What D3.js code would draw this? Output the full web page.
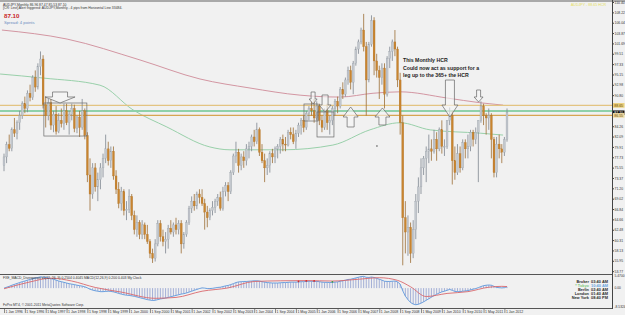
<!DOCTYPE html>
<html lang="en">
<head>
<meta charset="UTF-8">
<title>AUDJPY Monthly</title>
<script src="https://d3js.org/d3.v7.min.js"></script>
<style>
  body { margin: 0; background: #f1f1f1; }
  svg { display: block; font-family: 'Liberation Sans', Arial, sans-serif; }
  .tiny { font-size: 3.8px; fill: #333; }
</style>
</head>
<body>
<svg id="chart" width="625" height="315"></svg>
<script>
// ---- data ----
const firstMonth = new Date(1996, 0, 1);

// monthly candles [open, high, low, close], Jan 1996 .. Feb 2012
const candles = [
  [76.0,78.5,74.8,77.8],[77.8,81.0,76.5,80.4],[80.4,82.5,79.0,79.6],[79.6,84.0,79.0,83.5],
  [83.5,86.0,82.0,82.8],[82.8,85.5,81.5,85.0],[85.0,87.5,83.5,86.5],[86.5,89.5,85.8,89.0],
  [89.0,90.5,87.0,88.0],[88.0,91.8,87.2,91.2],[91.2,93.0,89.5,90.3],[90.3,95.0,89.8,94.5],
  [94.5,96.0,91.5,92.5],[92.5,97.5,92.0,96.8],[96.8,100.0,95.0,98.4],[98.4,99.2,88.0,88.8],
  [88.8,90.5,84.0,86.5],[86.5,90.0,85.5,89.2],[89.2,90.0,83.5,84.5],[84.5,87.5,83.0,86.8],
  [86.8,88.5,82.5,83.2],[83.2,87.0,82.8,85.5],[85.5,88.0,84.0,84.8],[84.8,89.0,83.5,87.5],
  [87.5,89.0,84.5,85.0],[85.0,87.5,82.5,86.8],[86.8,89.0,85.5,88.0],[88.0,88.8,83.0,83.8],
  [83.8,86.5,82.8,86.2],[86.2,87.5,82.0,84.0],[84.0,90.0,83.5,87.5],[87.5,88.0,81.5,82.3],
  [82.3,83.0,72.5,74.0],[74.0,77.5,66.5,70.0],[70.0,76.5,69.0,75.5],[75.5,76.5,70.5,71.5],
  [71.5,74.5,68.5,73.0],[73.0,76.5,71.0,75.5],[75.5,78.5,73.5,77.5],[77.5,82.5,76.5,79.5],
  [79.5,81.0,76.0,77.0],[77.0,80.0,75.5,79.0],[79.0,80.0,73.0,73.8],[73.8,75.0,70.0,71.0],
  [71.0,72.5,67.0,68.0],[68.0,71.5,66.5,70.5],[70.5,71.0,65.5,66.5],[66.5,68.5,64.5,66.8],
  [66.8,71.0,66.0,69.5],[69.5,70.0,64.5,65.5],[65.5,66.5,61.5,62.5],[62.5,65.5,61.0,64.0],
  [64.0,64.5,60.5,61.5],[61.5,64.5,60.5,63.5],[63.5,64.0,60.5,61.5],[61.5,63.5,59.5,60.0],
  [60.0,60.5,56.5,57.5],[57.5,58.5,55.5,56.5],[56.5,60.5,55.8,59.5],[59.5,64.5,59.0,63.8],
  [63.8,64.5,60.0,61.0],[61.0,62.5,59.0,60.0],[60.0,62.0,57.5,60.5],[60.5,63.5,58.5,62.8],
  [62.8,64.5,61.5,62.0],[62.0,64.0,61.0,63.5],[63.5,65.0,61.5,62.5],[62.5,64.5,61.5,63.8],
  [63.8,64.5,57.5,59.5],[59.5,62.0,58.5,61.5],[61.5,64.5,61.0,64.0],[64.0,67.5,63.5,67.0],
  [67.0,69.5,66.0,68.5],[68.5,70.0,66.5,67.5],[67.5,70.5,66.8,70.0],[70.0,71.0,68.0,69.3],
  [69.3,71.0,67.5,68.0],[68.0,69.0,62.5,66.2],[66.2,67.5,63.0,65.0],[65.0,67.0,64.5,66.5],
  [66.5,68.5,65.5,67.2],[67.2,69.0,66.0,68.5],[68.5,70.0,67.5,69.2],[69.2,70.5,66.5,67.0],
  [67.0,71.5,66.5,70.5],[70.5,72.5,69.5,71.8],[71.8,72.5,68.5,70.5],[70.5,75.0,70.0,74.5],
  [74.5,78.5,74.0,78.0],[78.0,81.0,76.5,78.8],[78.8,79.5,74.5,76.0],[76.0,78.5,75.0,77.8],
  [77.8,79.0,75.5,77.0],[77.0,80.5,76.0,79.5],[79.5,81.0,77.5,80.0],[80.0,82.5,79.0,82.0],
  [82.0,83.5,80.0,81.0],[81.0,85.0,80.5,83.5],[83.5,84.0,78.0,78.8],[78.8,80.5,76.5,77.0],
  [77.0,78.5,72.5,75.5],[75.5,77.5,74.0,76.0],[76.0,79.0,74.5,78.5],[78.5,79.5,76.5,77.8],
  [77.8,80.0,76.5,79.5],[79.5,80.5,77.5,80.0],[80.0,82.0,78.5,81.5],[81.5,82.5,79.0,80.5],
  [80.5,82.0,79.0,80.3],[80.3,83.5,80.0,83.0],[83.0,84.0,81.5,82.5],[82.5,84.0,80.5,81.0],
  [81.0,83.5,79.5,82.8],[82.8,85.0,82.0,84.5],[84.5,86.0,82.5,85.5],[85.5,86.5,83.0,84.0],
  [84.0,87.5,83.5,87.0],[87.0,88.5,85.5,88.0],[88.0,89.5,86.5,87.5],[87.5,90.0,85.0,86.0],
  [86.0,89.5,85.5,88.5],[88.5,89.0,84.5,85.5],[85.5,86.5,83.0,84.0],[84.0,88.0,83.5,87.5],
  [87.5,89.0,83.5,85.0],[85.0,86.5,82.5,85.5],[85.5,88.5,84.5,88.0],[88.0,90.0,86.5,89.5],
  [89.5,90.5,87.0,88.5],[88.5,92.5,88.0,92.0],[92.0,93.5,90.0,91.0],[91.0,94.5,90.5,94.0],
  [94.0,96.8,93.0,96.0],[96.0,97.0,92.0,93.5],[93.5,98.0,91.0,97.5],[97.5,101.0,97.0,100.5],
  [100.5,102.5,99.5,102.0],[102.0,105.0,101.5,104.5],[104.5,107.9,100.0,101.0],[101.0,102.0,86.5,94.0],
  [94.0,102.0,93.5,101.5],[101.5,107.6,101.0,106.5],[106.5,107.2,95.0,98.0],[98.0,99.5,94.5,96.0],
  [96.0,97.0,90.0,94.5],[94.5,97.5,93.0,96.5],[96.5,97.5,88.0,91.0],[91.0,99.0,90.5,98.5],
  [98.5,101.0,96.5,100.0],[100.0,102.5,98.0,102.0],[102.0,104.5,99.0,100.5],[100.5,101.0,92.5,94.0],
  [94.0,95.5,82.5,85.0],[85.0,86.5,55.0,65.0],[65.0,68.5,57.5,62.0],[62.0,65.5,57.0,63.0],
  [63.0,64.0,55.5,57.5],[57.5,64.5,56.5,62.5],[62.5,70.0,60.5,68.5],[68.5,73.5,66.0,71.5],
  [71.5,77.5,70.0,75.5],[75.5,78.0,74.0,77.5],[77.5,80.0,72.5,79.0],[79.0,82.5,76.5,79.5],
  [79.5,81.5,77.0,79.0],[79.0,83.5,78.5,81.5],[81.5,83.0,77.0,79.5],[79.5,84.0,79.0,83.5],
  [83.5,85.5,78.5,80.0],[80.0,81.5,78.0,80.0],[80.0,85.5,79.5,85.5],[85.5,88.2,84.5,86.5],
  [86.5,87.5,72.0,77.0],[77.0,80.0,73.0,74.5],[74.5,80.5,74.0,78.5],[78.5,80.0,74.5,75.5],
  [75.5,81.5,75.0,80.8],[80.8,81.5,77.5,79.5],[79.5,82.5,77.5,80.0],[80.0,83.5,79.0,83.0],
  [83.0,83.5,80.0,81.5],[81.5,84.0,80.5,83.0],[83.0,85.5,72.5,85.5],[85.5,89.5,85.0,88.5],
  [88.5,89.0,84.5,86.5],[86.5,87.0,82.5,86.0],[86.0,88.0,83.5,86.5],[86.5,87.0,77.5,81.5],
  [81.5,82.0,73.5,74.5],[74.5,82.0,73.5,80.5],[80.5,82.5,77.5,79.5],[79.5,80.5,76.5,78.8],
  [78.8,82.0,78.0,81.5],[81.5,88.0,81.0,87.1]
];

// moving averages on the price pane, [month index, price]
const slowMA = [[-0.8,104.5],[24.2,102.6],[52.2,98.2],[75.2,94.2],[94.4,92.3],[113.6,90.8],
  [128.9,90.4],[141.6,91.2],[152,91.5],[170,90.2],[182.7,89.2],[191.5,88.7]];
const fastMA = [[-1.5,95.25],[15,94.4],[36.8,92.9],[49.5,87.7],[62.5,84.1],[79,79.9],[86.7,79.3],
  [107,79.3],[126.2,80.3],[140.4,83.5],[152,85.0],[163.5,83.5],[182.7,82.8],[191.5,82.4]];

// horizontal lines: upper line, current price band, lower line
const levelPrices = [88.65, 87.45, 86.55];
const bidPrice = 87.10;

// MACD main value per month (histogram and blue line)
const macd = [
  0.0,0.4,0.8,1.3,1.7,2.1,2.5,2.9,3.2,3.6,3.9,4.3,4.5,4.8,5.1,
  5.0,4.8,4.6,4.3,4.0,3.6,
  3.2,2.9,2.6,2.3,2.0,1.8,1.6,1.3,1.1,0.9,
  0.6,0.1,-0.5,-0.9,-1.2,-1.4,-1.6,-1.6,-1.5,-1.4,
  -1.5,-1.7,-2.0,-2.4,-2.7,-3.0,-3.2,-3.3,-3.5,-3.7,
  -4.0,-4.3,-4.6,-4.9,-5.2,-5.4,-5.6,-5.5,-5.2,-4.9,
  -4.7,-4.5,-4.2,-3.9,-3.6,-3.3,-3.0,-2.7,-2.5,-2.2,
  -1.8,-1.4,-1.0,-0.6,-0.2,0.1,0.0,-0.2,-0.2,-0.1,
  0.1,0.3,0.4,0.7,1.0,1.2,1.6,2.0,2.5,2.8,
  2.9,3.0,3.0,3.1,3.2,3.3,3.3,3.2,2.9,2.7,
  2.5,2.4,2.3,2.3,2.3,2.4,2.5,2.5,2.6,2.7,
  2.7,2.7,2.8,2.9,2.9,3.0,3.1,3.1,3.0,3.0,
  2.9,2.7,2.6,2.6,2.5,2.6,2.7,2.8,3.1,3.3,
  3.6,3.9,4.0,4.3,4.6,4.9,5.2,5.3,4.9,4.8,
  5.0,4.8,4.4,4.0,3.6,3.1,3.0,3.0,3.1,3.2,
  2.8,1.8,-1.2,-3.6,-5.2,-6.5,-7.2,-7.5,-7.3,-6.8,
  -6.2,-5.5,-4.8,-4.1,-3.4,-2.8,-2.2,-1.7,-1.4,-1.0,
  -0.6,-1.0,-1.5,-1.6,-1.6,-1.4,-1.3,-1.1,-0.8,-0.5,
  -0.2,0.2,0.7,1.1,1.3,1.4,1.3,0.8,0.3,0.2,0.1,0.2,0.6
];
// MACD signal line, [month index, value]
const signal = [[0,-0.3],[10,2.8],[18,4.5],[26,3.2],[35,0.3],[45,-1.8],[58,-4.6],[66,-4.2],
  [76,-1.4],[86,0.1],[96,3.0],[106,3.3],[116,3.4],[126,3.2],[136,4.0],[144,4.7],[151,3.5],
  [156,0.6],[162,-3.8],[170,-2.4],[178,-1.6],[186,0.4],[191,0.8],[193,0.7]];
const divergenceMarks = [113, 116, 119, 126];

const priceTicks = [110.40,108.22,106.04,103.87,101.69,99.51,97.33,95.15,92.98,90.80,88.62,86.44,
  84.26,82.09,79.91,77.73,75.55,73.37,71.20,69.02,66.84,64.66,62.48,60.31,58.13,55.95,53.77];
const timeTicks = ["1 Jan 1996","1 Sep 1996","1 May 1997","1 Jan 1998","1 Sep 1998","1 May 1999",
  "1 Jan 2000","1 Sep 2000","1 May 2001","1 Jan 2002","1 Sep 2002","1 May 2003","1 Jan 2004",
  "1 Sep 2004","1 May 2005","1 Jan 2006","1 Sep 2006","1 May 2007","1 Jan 2008","1 Sep 2008",
  "1 May 2009","1 Jan 2010","1 Sep 2010","1 May 2011","1 Jan 2012"];

const noteLines = ["This Monthly HCR", "Could now act as support for a", "leg up to the 365+ the HCR"];
const clockNames = ["Broker", "* Tokyo", "Berlin", "London", "New York"];
const clockTimes = ["03:40 AM", "10:40 AM", "02:40 AM", "01:40 AM", "08:40 PM"];

// drawn objects, placed in [month index, price]
const boxes = [[15.3,89.15,31.8,82.2],[115.1,88.94,120.5,85.36],[120.1,87.26,126.6,82.0]];
// tip month, tip price, direction (1 = pointing down), length, head length, shaft width, head width
const arrows = [
  [21.5,89.15,1,11,6,15,30],
  [118.6,88.94,1,12,5,4,8],
  [123.2,87.26,1,17,7,6,12],
  [133.0,88.31,-1,20,10,7,15],
  [145.2,88.10,-1,17,9,7,15],
  [171.1,86.20,1,37,12,9,16],
  [182.1,89.36,1,12,5,4,9]
];

// ---- layout ----
const svg = d3.select("#chart");
const width = 625, height = 315;
const axisX = 612;

const x = d3.scaleLinear().domain([0, 193]).range([4, 507]);
const y = d3.scaleLinear().domain([53.38, 110.40]).range([273, 2]);
const ym = d3.scaleLinear().domain([-8.53, 5.47]).range([307, 276]);

svg.append("rect").attr("width", width).attr("height", height).attr("fill", "#f1f1f1");
svg.append("rect").attr("width", width).attr("height", 2).attr("fill", "#a9a9a9");

svg.append("clipPath").attr("id", "mainClip")
  .append("rect").attr("x", 0).attr("y", 2).attr("width", axisX).attr("height", 272);
const main = svg.append("g").attr("clip-path", "url(#mainClip)");

// moving averages
const maLine = d3.line().x(d => x(d[0])).y(d => y(d[1])).curve(d3.curveMonotoneX);
main.append("path").attr("d", maLine(slowMA)).attr("fill", "none")
  .attr("stroke", "#cf8b98").attr("stroke-width", 0.9);
main.append("path").attr("d", maLine(fastMA)).attr("fill", "none")
  .attr("stroke", "#8fcca2").attr("stroke-width", 0.9);

// horizontal levels
const levelColors = ["#e3c482", "#8fd1aa", "#d6a552"];
const levelWidths = [1.2, 2, 1.2];
main.selectAll(".level").data(levelPrices).join("line")
  .attr("x1", 0).attr("x2", axisX)
  .attr("y1", d => y(d)).attr("y2", d => y(d))
  .attr("stroke", (d, i) => levelColors[i])
  .attr("stroke-width", (d, i) => levelWidths[i]);

// candles
const up = d => d[3] >= d[0];
main.selectAll(".wick").data(candles).join("line")
  .attr("x1", (d, i) => x(i)).attr("x2", (d, i) => x(i))
  .attr("y1", d => y(d[1])).attr("y2", d => y(d[2]))
  .attr("stroke", d => up(d) ? "#7d858f" : "#9c6d35")
  .attr("stroke-width", 0.8);
main.selectAll(".body").data(candles).join("rect")
  .attr("x", (d, i) => x(i) - 0.95).attr("width", 1.9)
  .attr("y", d => y(Math.max(d[0], d[3])))
  .attr("height", d => Math.max(0.8, Math.abs(y(d[0]) - y(d[3]))))
  .attr("fill", d => up(d) ? "#c3c7cd" : "#c8842f")
  .attr("stroke", d => up(d) ? "#9aa1a9" : "#b0732a")
  .attr("stroke-width", 0.3);

// boxes and arrows
main.selectAll(".box").data(boxes).join("rect")
  .attr("x", d => x(d[0])).attr("y", d => y(d[1]))
  .attr("width", d => x(d[2]) - x(d[0])).attr("height", d => y(d[3]) - y(d[1]))
  .attr("fill", "none").attr("stroke", "#6a6a6a").attr("stroke-width", 0.7);

function arrowPoints(a) {
  const tx = x(a[0]), ty = y(a[1]), s = a[2];
  const L = a[3], hl = a[4], sw = a[5] / 2, hw = a[6] / 2;
  return [[tx - sw, ty - s * L], [tx + sw, ty - s * L], [tx + sw, ty - s * hl],
    [tx + hw, ty - s * hl], [tx, ty], [tx - hw, ty - s * hl], [tx - sw, ty - s * hl]]
    .map(p => p.join(",")).join(" ");
}
main.selectAll(".arrow").data(arrows).join("polygon")
  .attr("points", arrowPoints)
  .attr("fill", "#f7f7f7").attr("fill-opacity", 0.6)
  .attr("stroke", "#666").attr("stroke-width", 0.7);

main.append("circle").attr("cx", x(143.1)).attr("cy", y(80.1)).attr("r", 0.7).attr("fill", "#333");

const note = main.append("text").attr("x", x(153.1)).attr("y", y(97.78))
  .attr("font-size", 5.2).attr("font-weight", "bold").attr("fill", "#222");
noteLines.forEach((t, i) => note.append("tspan").attr("x", x(153.1)).attr("dy", i ? 7.6 : 0).text(t));

// header texts
svg.append("text").attr("class", "tiny").attr("x", 3).attr("y", 5.5).style("font-size", "3.4px")
  .text("AUDJPY,Monthly  86.96 87.47 85.53 87.10");
svg.append("text").attr("class", "tiny").attr("x", 3).attr("y", 9).style("font-size", "3.4px")
  .text("[CR: Line] Alert triggered: AUDJPY,Monthly - 4 pips from Horizontal Line 33484.");
svg.append("text").attr("x", 4).attr("y", 18).attr("font-size", 6.2).attr("font-weight", "bold")
  .attr("fill", "#c8251f").text("87.10");
svg.append("text").attr("x", 4).attr("y", 23.5).attr("font-size", 4.2)
  .attr("fill", "#6a8cc0").text("Spread: 4 points");
svg.append("text").attr("x", 606).attr("y", 6).attr("font-size", 3.6).attr("text-anchor", "end")
  .attr("fill", "#e6df5e").text("AUDJPY - 88.65 HCR");

// price axis
svg.append("line").attr("x1", axisX + 0.5).attr("x2", axisX + 0.5).attr("y1", 0).attr("y2", 309)
  .attr("stroke", "#444").attr("stroke-width", 1);
const yAxis = svg.append("g").attr("transform", `translate(${axisX + 0.5},0)`)
  .call(d3.axisRight(y).tickValues(priceTicks).tickFormat(d3.format(".2f")).tickSize(1.5).tickPadding(0.6));
yAxis.select(".domain").remove();
yAxis.selectAll("line").attr("stroke", "#444");
yAxis.selectAll("text").attr("font-size", 3.4).attr("fill", "#333").attr("font-family", "'Liberation Sans', Arial");

// price labels on the axis
const tagColors = ["#ecd07a", "#111", "#eed9a0"];
const tagText = ["#6b5010", "#fff", "#6b5010"];
const tags = [[levelPrices[0], d3.format(".2f")(levelPrices[0])], [bidPrice, "87.10"], [levelPrices[2], d3.format(".2f")(levelPrices[2])]];
const tagG = svg.selectAll(".tag").data(tags).join("g")
  .attr("transform", d => `translate(${axisX + 1},${y(d[0])})`);
tagG.append("rect").attr("x", 0).attr("y", -2.3).attr("width", 11.5).attr("height", 4.6)
  .attr("fill", (d, i) => tagColors[i]);
tagG.append("text").attr("x", 1.3).attr("y", 1.3).attr("font-size", 3.5)
  .attr("fill", (d, i) => tagText[i]).text(d => d[1]);

// separators
svg.append("line").attr("x1", 0).attr("x2", axisX).attr("y1", 274.5).attr("y2", 274.5)
  .attr("stroke", "#555").attr("stroke-width", 1);
svg.append("line").attr("x1", 0).attr("x2", axisX).attr("y1", 308.5).attr("y2", 308.5)
  .attr("stroke", "#555").attr("stroke-width", 1);

// MACD pane
const sub = svg.append("g");
sub.selectAll(".hist").data(macd).join("line")
  .attr("x1", (d, i) => x(i)).attr("x2", (d, i) => x(i))
  .attr("y1", ym(0)).attr("y2", d => ym(d))
  .attr("stroke", "#6f83c4").attr("stroke-width", 0.6);
sub.append("path").datum(macd)
  .attr("d", d3.line().x((d, i) => x(i)).y(d => ym(d)))
  .attr("fill", "none").attr("stroke", "#5d97dc").attr("stroke-width", 0.9);
sub.append("path").datum(signal)
  .attr("d", d3.line().x(d => x(d[0])).y(d => ym(d[1])).curve(d3.curveMonotoneX))
  .attr("fill", "none").attr("stroke", "#d9686c").attr("stroke-width", 0.9);
sub.selectAll(".mark").data(divergenceMarks).join("circle")
  .attr("cx", d => x(d)).attr("cy", d => ym(macd[d]) - 0.5).attr("r", 0.9)
  .attr("fill", (d, i) => i === 3 ? "#3a9a3a" : "#d42a2a");

sub.append("text").attr("class", "tiny").attr("x", 3).attr("y", 279).style("font-size", "3.4px")
  .text("FXE_MACD_Divergence v1(12, 26, 9) 0.2504 0.4045   MACD(12,26,9) 0.200 0.403   My Clock");
sub.append("text").attr("class", "tiny").attr("x", 3).attr("y", 305.5).style("font-size", "3.4px")
  .text("FxPro MT4, \u00a9 2001-2011 MetaQuotes Software Corp.");

const macdLabels = [[5.47, "5.4700"], [0, "0.00"], [-8.53, "-8.5324"]];
svg.selectAll(".mlab").data(macdLabels).join("text")
  .attr("x", axisX + 2.5).attr("y", d => ym(d[0]) + 1.2)
  .attr("font-size", 3.3).attr("fill", "#333").text(d => d[1]);

// clock
const clock = svg.append("g");
clockNames.forEach((n, i) => {
  const cy = 283 + i * 4.1;
  clock.append("text").attr("x", 589).attr("y", cy).attr("text-anchor", "end")
    .attr("font-size", 3.9).attr("font-weight", "bold")
    .attr("fill", i === 1 ? "#7fc77f" : "#2b2b2b").text(n);
  clock.append("text").attr("x", 591).attr("y", cy)
    .attr("font-size", 3.9).attr("font-weight", "bold")
    .attr("fill", i === 1 ? "#6aa2dc" : "#2b2b2b").text(clockTimes[i]);
});

// time axis
const parseTick = d3.timeParse("%d %b %Y");
const tg = svg.selectAll(".tt").data(timeTicks).join("g")
  .attr("transform", d => `translate(${x(d3.timeMonth.count(firstMonth, parseTick(d)))},0)`);
tg.append("line").attr("x1", 0.5).attr("x2", 0.5).attr("y1", 309).attr("y2", 313)
  .attr("stroke", "#444").attr("stroke-width", 0.6);
tg.append("text").attr("x", 1.5).attr("y", 313).attr("font-size", 3.5).attr("fill", "#333").text(d => d);
</script>
</body>
</html>
